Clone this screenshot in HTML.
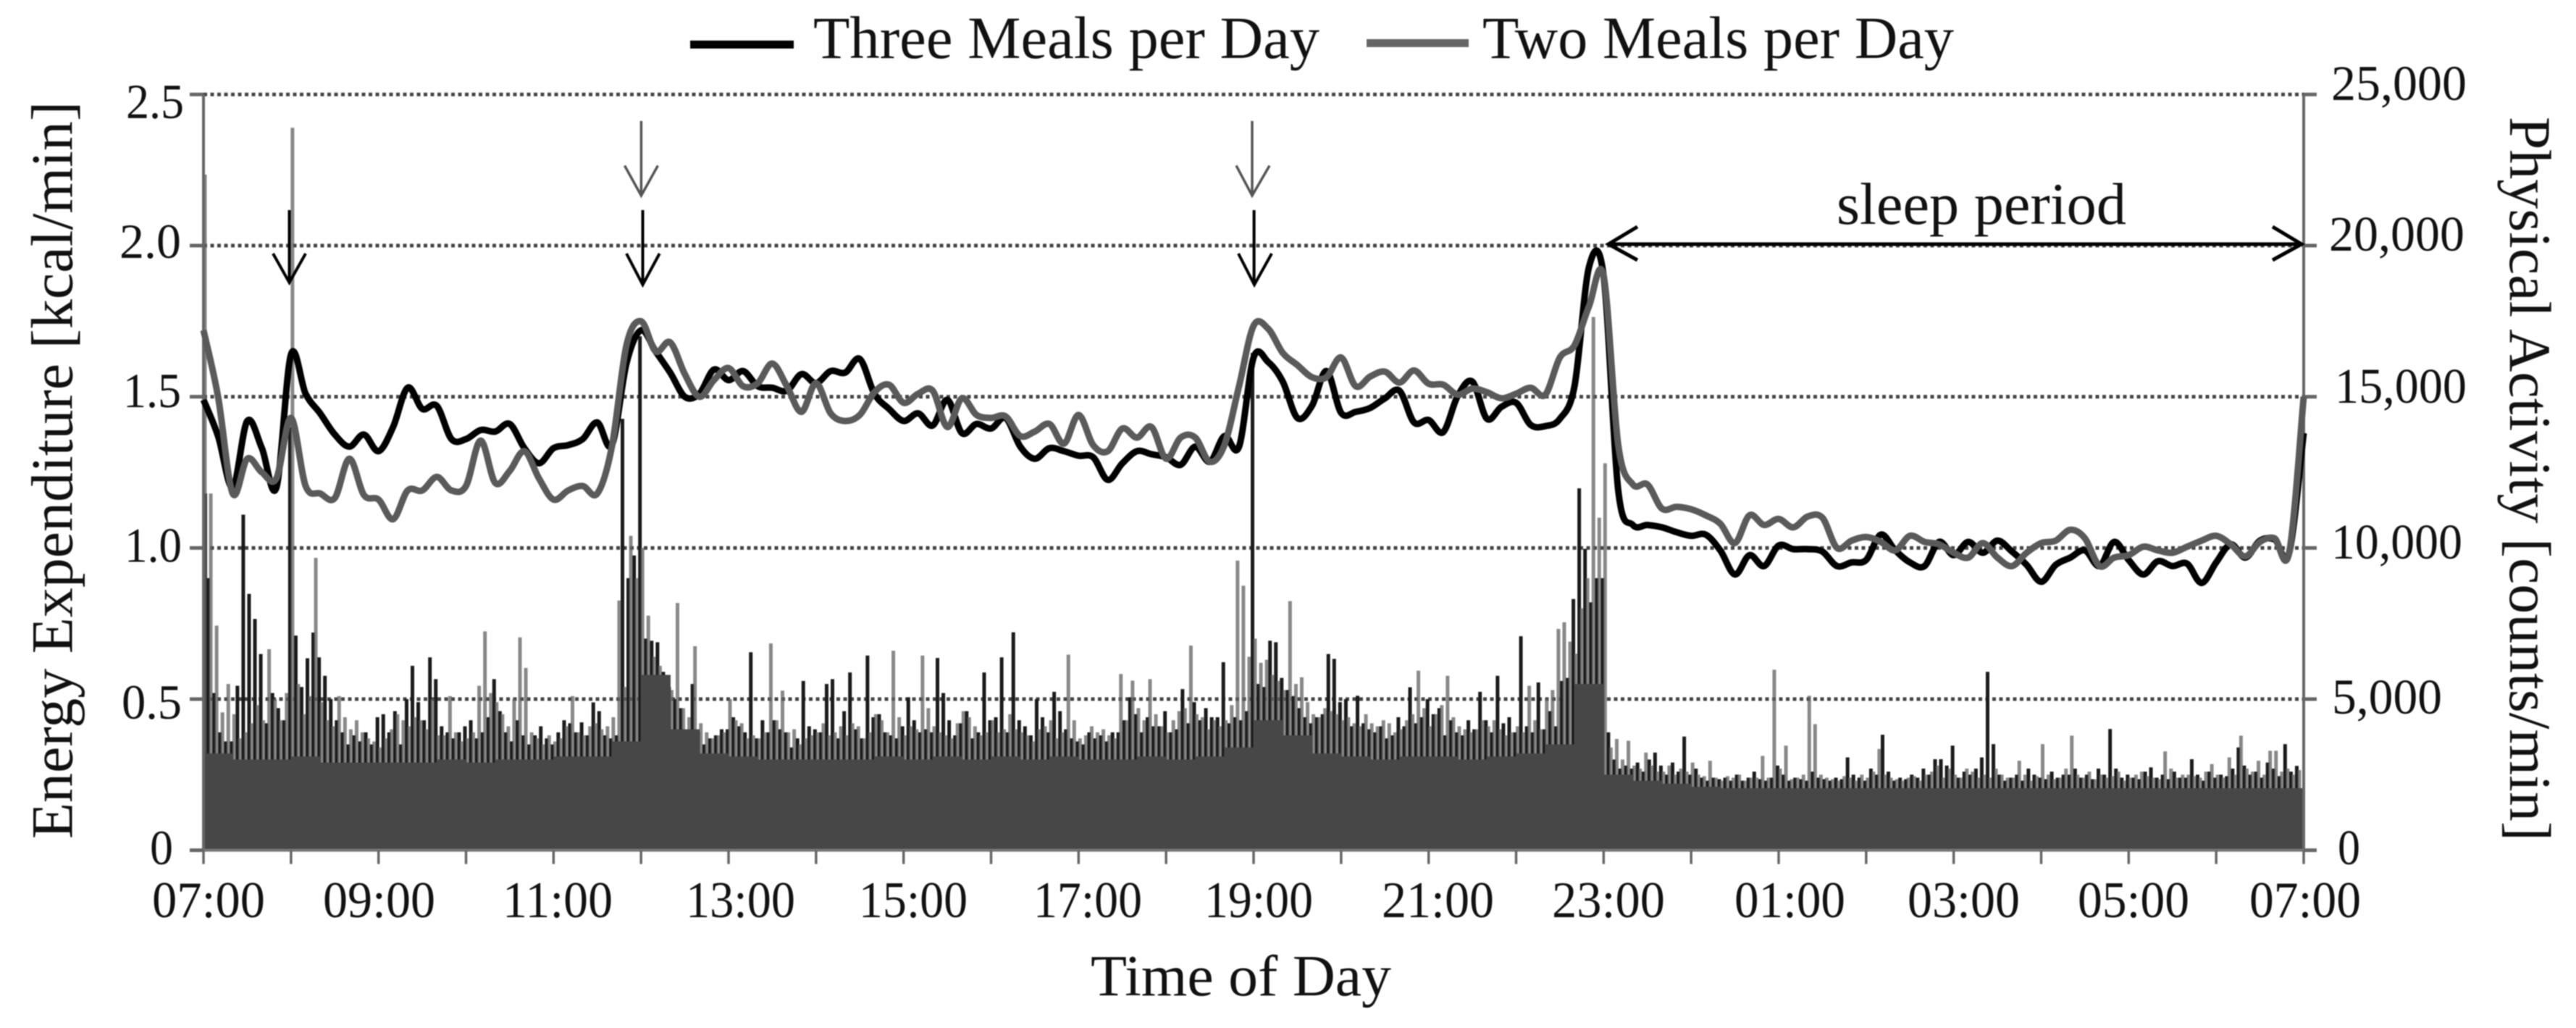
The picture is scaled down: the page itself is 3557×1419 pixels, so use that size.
<!DOCTYPE html>
<html lang="en">
<head>
<meta charset="utf-8">
<title>Energy Expenditure and Physical Activity by Time of Day</title>
<style>
html,body{margin:0;padding:0;background:#fff;width:3557px;height:1419px;overflow:hidden}
svg{display:block;filter:blur(0.8px)}
text{font-family:"Liberation Serif",serif;fill:#111}
</style>
</head>
<body>
<svg id="chart" xmlns="http://www.w3.org/2000/svg" width="3557" height="1419" viewBox="0 0 3557 1419">
<rect width="3557" height="1419" fill="#fff"/>
<g id="grid"></g>
<g id="barsThree"></g>
<g id="barsTwo"></g>
<g id="floorBars"></g>
<g id="axes"></g>
<g id="lines"></g>

<g>
<line x1="953" x2="1096" y1="61.5" y2="61.5" stroke="#000" stroke-width="11"/>
<text x="1123" y="80" font-size="83" textLength="699" lengthAdjust="spacingAndGlyphs">Three Meals per Day</text>
<line x1="1887" x2="2028" y1="59.5" y2="59.5" stroke="#666" stroke-width="11"/>
<text x="2047" y="80" font-size="83" textLength="651" lengthAdjust="spacingAndGlyphs">Two Meals per Day</text>
</g>

<g font-size="68">
<text x="174" y="163" textLength="80" lengthAdjust="spacingAndGlyphs">2.5</text>
<text x="165" y="356" textLength="85" lengthAdjust="spacingAndGlyphs">2.0</text>
<text x="170" y="562" textLength="80" lengthAdjust="spacingAndGlyphs">1.5</text>
<text x="172" y="775.6" textLength="79" lengthAdjust="spacingAndGlyphs">1.0</text>
<text x="168" y="992" textLength="83" lengthAdjust="spacingAndGlyphs">0.5</text>
<text x="207" y="1193" textLength="32" lengthAdjust="spacingAndGlyphs">0</text>
</g>

<g font-size="69">
<text x="3219" y="138" textLength="187" lengthAdjust="spacingAndGlyphs">25,000</text>
<text x="3216" y="346" textLength="187" lengthAdjust="spacingAndGlyphs">20,000</text>
<text x="3224" y="556" textLength="182" lengthAdjust="spacingAndGlyphs">15,000</text>
<text x="3219" y="771" textLength="181" lengthAdjust="spacingAndGlyphs">10,000</text>
<text x="3220" y="985" textLength="152" lengthAdjust="spacingAndGlyphs">5,000</text>
<text x="3228" y="1193" textLength="31" lengthAdjust="spacingAndGlyphs">0</text>
</g>

<g font-size="71">
<text x="210" y="1266" textLength="156" lengthAdjust="spacingAndGlyphs">07:00</text>
<text x="446" y="1266" textLength="155" lengthAdjust="spacingAndGlyphs">09:00</text>
<text x="694" y="1266" textLength="152" lengthAdjust="spacingAndGlyphs">11:00</text>
<text x="947" y="1266" textLength="151" lengthAdjust="spacingAndGlyphs">13:00</text>
<text x="1186" y="1266" textLength="150" lengthAdjust="spacingAndGlyphs">15:00</text>
<text x="1427" y="1266" textLength="150" lengthAdjust="spacingAndGlyphs">17:00</text>
<text x="1663" y="1266" textLength="150" lengthAdjust="spacingAndGlyphs">19:00</text>
<text x="1908" y="1266" textLength="155" lengthAdjust="spacingAndGlyphs">21:00</text>
<text x="2143" y="1266" textLength="156" lengthAdjust="spacingAndGlyphs">23:00</text>
<text x="2395" y="1266" textLength="153" lengthAdjust="spacingAndGlyphs">01:00</text>
<text x="2634" y="1266" textLength="155" lengthAdjust="spacingAndGlyphs">03:00</text>
<text x="2869" y="1266" textLength="154" lengthAdjust="spacingAndGlyphs">05:00</text>
<text x="3106" y="1266" textLength="154" lengthAdjust="spacingAndGlyphs">07:00</text>
</g>

<text x="1506" y="1374" font-size="81" textLength="415" lengthAdjust="spacingAndGlyphs">Time of Day</text>
<text transform="translate(99.5,1158) rotate(-90)" font-size="82" textLength="1018" lengthAdjust="spacingAndGlyphs">Energy Expenditure [kcal/min]</text>
<text transform="translate(3466,161) rotate(90)" font-size="82" textLength="1000" lengthAdjust="spacingAndGlyphs">Physical Activity [counts/min]</text>

<g fill="none" stroke-linecap="butt" stroke-linejoin="miter">
<g stroke="#000" stroke-width="4">
<path d="M399.5 290V388M377 350L399.5 390L422 350"/></g>
<g stroke="#555" stroke-width="3.5">
<path d="M885.4 167V268M862.5 228.6L885.4 270L908.4 228.6"/></g>
<g stroke="#000" stroke-width="4">
<path d="M887.5 290V391M865 350L887.5 393L910.7 350"/></g>
<g stroke="#555" stroke-width="3.5">
<path d="M1729 167V268M1707 228.6L1729 270L1753 228.6"/></g>
<g stroke="#000" stroke-width="4">
<path d="M1731.6 290V391M1710 350L1732 393L1756 350"/></g>
</g>

<g>
<path d="M2221 337H3177M2261 313L2221 337L2261 359M3138 313L3178 337L3138 359" fill="none" stroke="#000" stroke-width="5"/>
<text x="2536" y="309" font-size="82" textLength="400" lengthAdjust="spacingAndGlyphs">sleep period</text>
</g>
</svg>

<script>
// Energy expenditure [kcal/min], one reading every 10 minutes from 07:00 to 07:00
const threeMealsKcal = [
1.49,1.37,1.20,1.42,1.33,1.20,1.64,1.51,1.445,1.375,
1.335,1.375,1.32,1.40,1.53,1.46,1.47,1.36,1.36,1.39,
1.385,1.41,1.33,1.28,1.33,1.34,1.36,1.415,1.34,1.61,
1.72,1.65,1.58,1.50,1.51,1.59,1.555,1.585,1.535,1.53,
1.52,1.575,1.545,1.585,1.58,1.625,1.51,1.46,1.42,1.445,
1.405,1.49,1.38,1.41,1.395,1.43,1.335,1.295,1.33,1.32,
1.305,1.30,1.225,1.28,1.32,1.31,1.30,1.275,1.335,1.285,
1.37,1.335,1.63,1.615,1.55,1.43,1.47,1.585,1.447,1.45,
1.463,1.495,1.52,1.415,1.423,1.383,1.503,1.55,1.427,1.467,
1.48,1.407,1.403,1.427,1.535,1.93,1.90,1.19,1.076,1.076,
1.068,1.052,1.04,1.044,.992,.912,.976,.94,1.008,.996,
.996,.988,.94,.952,.96,1.044,.992,.952,.94,1.02,
.976,1.02,.984,1.024,.988,.944,.888,.944,.968,.992,
.94,1.02,.96,.912,.956,.94,.948,.884,.952,1.012,
.968,1.024,1.028,.984,1.38];

const twoMealsKcal = [
1.72,1.50,1.18,1.295,1.25,1.23,1.43,1.205,1.18,1.165,
1.295,1.175,1.16,1.095,1.19,1.19,1.235,1.19,1.205,1.355,
1.215,1.255,1.32,1.23,1.16,1.19,1.205,1.18,1.335,1.67,
1.75,1.65,1.68,1.575,1.50,1.555,1.595,1.535,1.545,1.61,
1.535,1.45,1.545,1.445,1.42,1.44,1.515,1.54,1.48,1.51,
1.52,1.40,1.495,1.44,1.43,1.435,1.37,1.385,1.41,1.345,
1.44,1.34,1.32,1.395,1.365,1.40,1.295,1.365,1.365,1.285,
1.34,1.535,1.735,1.725,1.645,1.605,1.565,1.565,1.63,1.535,
1.567,1.583,1.547,1.587,1.543,1.54,1.507,1.527,1.515,1.495,
1.51,1.53,1.507,1.63,1.67,1.80,1.90,1.34,1.21,1.21,
1.13,1.136,1.128,1.108,1.08,1.016,1.108,1.076,1.096,1.068,
1.104,1.10,1.0,1.024,1.036,1.02,.992,1.04,1.02,1.012,
.984,.968,1.016,.968,.94,.984,1.016,1.024,1.06,1.032,
.94,.968,.976,1.004,.992,.984,1.004,1.024,1.04,1.012,
.972,1.02,1.032,.984,1.5];

// Physical activity [counts/min], one reading every 4 minutes (10 per row = 40 minutes)
const threeMealsCounts = [
11800,9000,5200,3900,3600,3600,5440,11100,8480,7650,
6490,4200,5200,4700,4300,14000,7100,5400,6350,7200,
6380,5770,5000,4300,3900,3500,3800,3600,3900,3500,
4400,4500,3900,4600,3500,5000,6100,4900,4300,6380,
5660,4100,3900,3700,3900,4100,4300,3700,3900,4400,
5660,4600,3900,3600,4300,3800,3500,3800,4100,3700,
3500,3900,4300,4200,3900,4230,3800,4890,4600,3800,
3700,3800,14270,9000,9750,17000,7000,6930,6880,5900,
5400,5000,4700,3900,5500,3900,3500,3700,3800,4000,
4000,4400,4100,3900,6550,3700,4300,3900,4300,4000,
3900,3400,3700,5600,4100,4000,3900,5500,5660,3700,
4600,5880,4000,3700,6440,4400,4500,3900,3800,3700,
4100,5060,4300,3900,4000,3900,6360,5200,4300,3800,
4200,4600,3700,3900,5880,4300,4400,6380,3900,7210,
4300,4100,3800,5000,4400,3900,5240,4600,4000,3700,
3600,3500,3900,3700,3800,3600,3900,3900,4300,5060,
4500,3900,4400,4100,4100,4600,3900,4000,5330,4200,
4900,4300,4700,4400,4400,6220,4200,4400,4300,4600,
16450,5500,5400,6930,6880,5700,5300,5100,4700,4400,
4200,4400,4500,6490,6330,4900,5000,4100,5110,4200,
4000,3900,4100,3700,3800,4400,4100,5390,4200,4400,
5000,4500,4700,3800,4300,3900,3800,4300,4000,5240,
4300,3900,5770,4200,4400,3900,7080,4100,3900,5550,
4000,4600,4100,5600,5700,8310,11970,9970,8200,9000,
9000,3900,3000,2700,2800,2700,2900,2600,3000,3230,
2800,2500,2900,2600,3760,2500,2700,2400,2300,2400,
2350,2400,2300,2500,2300,2400,2600,2350,2300,2400,
2800,2500,2300,2400,2350,2300,2600,2400,2350,2300,
2400,2350,3070,2500,2400,2300,2700,2500,3820,2600,
2300,2400,2350,2500,2400,2700,2500,3010,3010,2800,
3460,2400,2600,2500,2700,3070,5900,3510,2500,2300,
2400,2500,2300,2700,2500,2400,2350,2600,2400,2500,
2500,2700,2400,2500,2350,2700,2500,4010,2700,2400,
2500,2400,2350,2600,2740,2400,2500,2350,2600,2400,
2400,3010,2500,2300,2600,2400,2500,2450,2700,3400,
2800,2500,2600,2400,2900,2700,2450,3510,2600,2790];

const twoMealsCounts = [
22350,11800,7430,4560,5500,4500,3700,3900,4200,4800,
4300,6650,5000,4300,5200,23900,5500,4500,5100,9670,
4900,4300,4100,5100,4400,4000,4300,3900,3700,3600,
3400,3700,4000,4500,4300,4100,4400,4300,4000,5000,
3800,3800,5100,3900,3600,3700,3900,5440,7240,5200,
4900,4500,4100,5000,7040,6030,3900,3700,3500,3800,
3600,3700,4100,5100,3900,3800,4100,4200,4000,4100,
4400,8260,5400,10400,9000,10000,7760,6400,6100,5500,
5300,8180,4700,4400,6750,4200,3900,3700,3800,3900,
5000,4300,4200,3700,3800,3700,3900,6840,4300,5280,
3900,4000,3500,3700,3800,3900,4200,3800,3900,4100,
3800,4200,4100,3700,3900,4500,4300,3900,6600,4400,
3800,4100,4000,6440,4700,4100,3900,3800,3700,4200,
4600,4400,4100,3800,3900,4300,3900,4000,4500,4000,
3900,3800,3600,4000,4100,4300,3700,3900,6470,4300,
3700,3800,4100,3900,4000,3800,3700,5830,4300,5610,
4700,4300,5660,4500,4100,3900,4300,4600,4700,6770,
4500,4400,4000,4300,4100,4300,4800,9580,8750,6400,
7000,6200,6300,5800,5600,5300,8240,5500,5720,4900,
4500,4400,4700,4600,4500,4300,4400,4200,4100,4500,
4200,4100,4300,4200,3900,4000,4300,4500,5940,4700,
4100,4500,4800,5770,4400,4100,4000,3900,4000,4300,
4100,4300,4000,3800,3900,4100,3900,5440,4300,4000,
5000,5300,7320,7540,6900,6500,8000,9000,17640,11000,
12800,3400,3680,3000,3620,2800,2700,3230,2800,2600,
2600,2800,2500,2700,2600,2900,2500,2450,2960,2400,
2300,2450,2400,2500,2300,2400,2400,3120,2400,5970,
2700,3460,2350,2400,2500,5110,4170,2500,2400,2350,
2300,2450,2400,2300,2500,2400,2600,3350,2500,2400,
2350,2300,2400,2450,2300,2500,2600,2800,2400,2700,
2500,2400,2700,2600,2400,2500,2400,2700,2500,2400,
2400,2960,2500,2300,2450,3510,2500,2350,2400,2700,
3790,2500,2400,2600,2350,2500,2400,2450,2600,2300,
2400,2500,2600,2450,2400,2350,3270,2700,2400,2500,
2500,2450,2400,2600,2850,2500,2400,3070,2500,3790,
2700,2600,2960,2500,3290,3290,2600,2700,2500,2650];

// Activity level both groups share, one reading every 20 minutes
const sharedFloorCounts = [
3200,3000,3000,3100,2900,2900,2900,2900,3000,2900,
3000,3000,3100,3100,3600,5800,4000,3200,3100,3000,
3000,3000,3000,3100,3000,3100,3000,3100,3000,3100,
3000,3000,3100,3000,3100,3400,4300,3800,3200,3100,
3000,3100,3100,3000,3100,3200,3500,5500,2500,2300,
2200,2100,2050,2050,2050,2050,2050,2050,2050,2050,
2050,2050,2050,2050,2050,2050,2050,2050,2050,2050,
2050,2050];

const hourTicks = [0,1,2,3,4,5,6,7,8,9,10,11,12,13,14,15,16,17,18,19,20,21,22,23,24];
const kcalTicks = [0,0.5,1.0,1.5,2.0,2.5];

const NS = 'http://www.w3.org/2000/svg';
const plotLeft = 281, plotRight = 3181, plotBottom = 1173.6, plotTop = 130.4;
const lineStepMinutes = 10, barStepMinutes = 4, floorStepMinutes = 20;
const barWidth = 5;

function timeX(minute){ return plotLeft + (plotRight - plotLeft) * minute / 1440; }
function kcalY(v){ return plotBottom - (plotBottom - plotTop) * v / 2.5; }
function countsY(c){ return plotBottom - (plotBottom - plotTop) * c / 25000; }

function make(tag, parent){
  const el = document.createElementNS(NS, tag);
  parent.appendChild(el);
  return el;
}

function smoothPath(values){
  const pts = values.map(function(v, i){ return [timeX(i * lineStepMinutes), kcalY(v)]; });
  let d = 'M' + pts[0][0].toFixed(1) + ' ' + pts[0][1].toFixed(1);
  for (let i = 0; i < pts.length - 1; i++){
    const p0 = pts[Math.max(i - 1, 0)], p1 = pts[i], p2 = pts[i + 1], p3 = pts[Math.min(i + 2, pts.length - 1)];
    const c1x = p1[0] + (p2[0] - p0[0]) / 6, c1y = p1[1] + (p2[1] - p0[1]) / 6;
    const c2x = p2[0] - (p3[0] - p1[0]) / 6, c2y = p2[1] - (p3[1] - p1[1]) / 6;
    d += 'C' + c1x.toFixed(1) + ' ' + c1y.toFixed(1) + ' ' + c2x.toFixed(1) + ' ' + c2y.toFixed(1) + ' ' + p2[0].toFixed(1) + ' ' + p2[1].toFixed(1);
  }
  return d;
}

const gridGroup = document.getElementById('grid');
const axesGroup = document.getElementById('axes');

kcalTicks.forEach(function(v){
  if (v === 0) return;
  const g = make('line', gridGroup);
  
  
  g.setAttribute('x1', plotLeft);
  g.setAttribute('x2', plotRight);
  g.setAttribute('y1', kcalY(v));
  g.setAttribute('y2', kcalY(v));
  g.setAttribute('stroke', '#444');
  g.setAttribute('stroke-width', '5');
  g.setAttribute('stroke-dasharray', '5 4.5');
});

const threeGroup = document.getElementById('barsThree');
threeMealsCounts.forEach(function(c, i){
  const r = make('rect', threeGroup);
  
  
  r.setAttribute('x', Math.max(plotLeft, timeX(i * barStepMinutes) - 4));
  r.setAttribute('width', barWidth);
  r.setAttribute('y', countsY(c));
  r.setAttribute('height', plotBottom - countsY(c));
  r.setAttribute('fill', '#1a1a1a');
});

const twoGroup = document.getElementById('barsTwo');
twoMealsCounts.forEach(function(c, i){
  const r = make('rect', twoGroup);
  
  
  r.setAttribute('x', timeX(i * barStepMinutes) - 0.5);
  r.setAttribute('width', barWidth);
  r.setAttribute('y', countsY(c));
  r.setAttribute('height', plotBottom - countsY(c));
  r.setAttribute('fill', '#5f5f5f');
  r.setAttribute('fill-opacity', '0.745');
});

const floorGroup = document.getElementById('floorBars');
sharedFloorCounts.forEach(function(c, i){
  const r = make('rect', floorGroup);
  
  
  r.setAttribute('x', timeX(i * floorStepMinutes));
  r.setAttribute('width', timeX(floorStepMinutes) - timeX(0) + 0.5);
  r.setAttribute('y', countsY(c));
  r.setAttribute('height', plotBottom - countsY(c));
  r.setAttribute('fill', '#474747');
});

const leftAxis = make('line', axesGroup);


leftAxis.setAttribute('x1', plotLeft);
leftAxis.setAttribute('x2', plotLeft);
leftAxis.setAttribute('y1', plotTop);
leftAxis.setAttribute('y2', plotBottom);
leftAxis.setAttribute('stroke', '#666');
leftAxis.setAttribute('stroke-width', '4');

const rightAxis = make('line', axesGroup);


rightAxis.setAttribute('x1', plotRight);
rightAxis.setAttribute('x2', plotRight);
rightAxis.setAttribute('y1', plotTop);
rightAxis.setAttribute('y2', plotBottom);
rightAxis.setAttribute('stroke', '#666');
rightAxis.setAttribute('stroke-width', '4');

const bottomAxis = make('line', axesGroup);


bottomAxis.setAttribute('x1', plotLeft);
bottomAxis.setAttribute('x2', plotRight);
bottomAxis.setAttribute('y1', plotBottom);
bottomAxis.setAttribute('y2', plotBottom);
bottomAxis.setAttribute('stroke', '#777');
bottomAxis.setAttribute('stroke-width', '4');

kcalTicks.forEach(function(v){
  const lt = make('line', axesGroup);
  
  
  lt.setAttribute('x1', plotLeft - 19);
  lt.setAttribute('x2', plotLeft);
  lt.setAttribute('y1', kcalY(v));
  lt.setAttribute('y2', kcalY(v));
  lt.setAttribute('stroke', '#666');
  lt.setAttribute('stroke-width', '5');
  const rt = make('line', axesGroup);
  
  
  rt.setAttribute('x1', plotRight);
  rt.setAttribute('x2', plotRight + 18);
  rt.setAttribute('y1', kcalY(v));
  rt.setAttribute('y2', kcalY(v));
  rt.setAttribute('stroke', '#666');
  rt.setAttribute('stroke-width', '5');
});

hourTicks.forEach(function(h){
  const t = make('line', axesGroup);
  
  
  t.setAttribute('x1', timeX(h * 60));
  t.setAttribute('x2', timeX(h * 60));
  t.setAttribute('y1', plotBottom);
  t.setAttribute('y2', plotBottom + 19);
  t.setAttribute('stroke', '#666');
  t.setAttribute('stroke-width', '3.5');
});

const linesGroup = document.getElementById('lines');
const threeLine = make('path', linesGroup);


threeLine.setAttribute('d', smoothPath(threeMealsKcal));
threeLine.setAttribute('fill', 'none');
threeLine.setAttribute('stroke', '#000');
threeLine.setAttribute('stroke-width', '9');
threeLine.setAttribute('stroke-linejoin', 'round');

const twoLine = make('path', linesGroup);


twoLine.setAttribute('d', smoothPath(twoMealsKcal));
twoLine.setAttribute('fill', 'none');
twoLine.setAttribute('stroke', '#5a5a5a');
twoLine.setAttribute('stroke-width', '9');
twoLine.setAttribute('stroke-linejoin', 'round');
</script>
</body>
</html>
